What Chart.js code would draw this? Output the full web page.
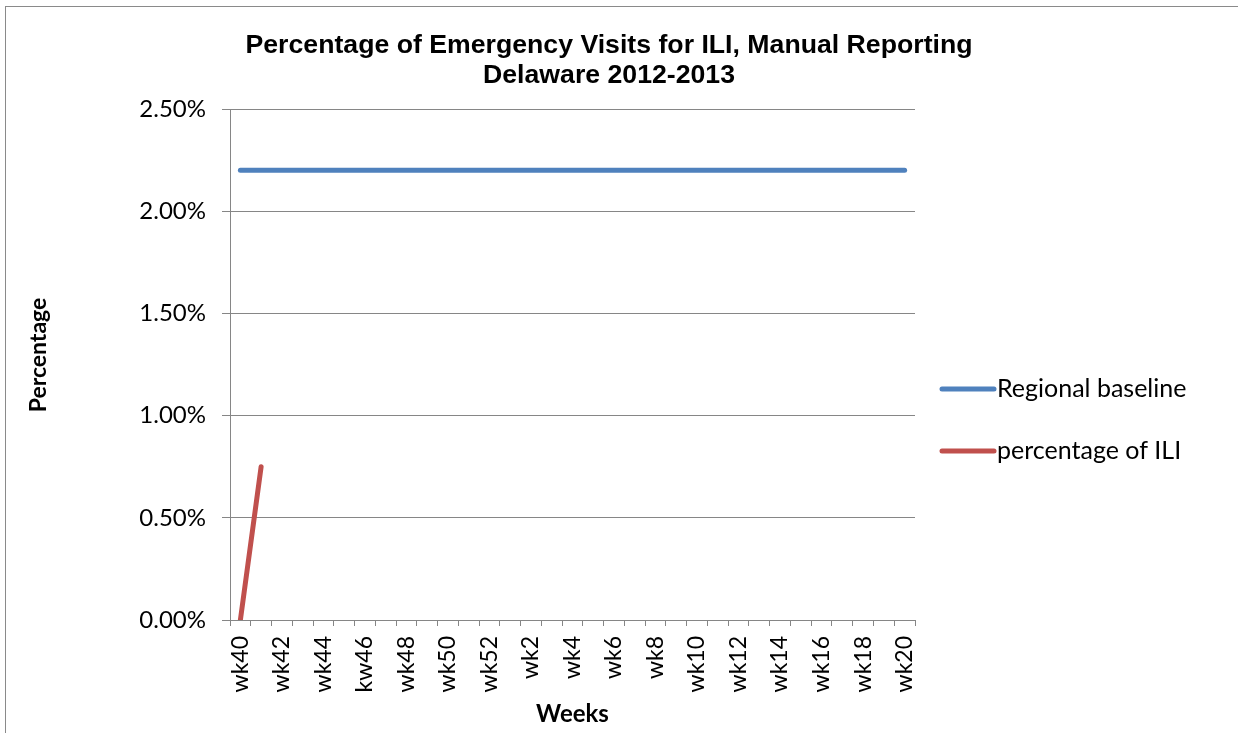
<!DOCTYPE html>
<html>
<head>
<meta charset="utf-8">
<script src="https://cdn.jsdelivr.net/npm/chart.js@4"></script>
<style>
  body { margin: 0; background: #fff; }
  #wrap { position: relative; width: 1238px; height: 733px; overflow: hidden; }
  #frame { position: absolute; left: 5px; top: 6px; width: 1240px; height: 740px; border: 1px solid #8a8a8a; }
  canvas { position: absolute; left: 0; top: 0; }
</style>
</head>
<body>
<div id="wrap">
  <div id="frame"></div>
  <canvas id="chart-canvas" width="1238" height="733"></canvas>
</div>
<script>
// weeks of the 2012-2013 season
const weeks = [
  'wk40', 'wk41', 'wk42', 'wk43', 'wk44', 'wk45', 'kw46', 'wk47', 'wk48', 'wk49', 'wk50', 'wk51', 'wk52',
  'wk1', 'wk2', 'wk3', 'wk4', 'wk5', 'wk6', 'wk7', 'wk8', 'wk9', 'wk10',
  'wk11', 'wk12', 'wk13', 'wk14', 'wk15', 'wk16', 'wk17', 'wk18', 'wk19', 'wk20'
]
const baseline = weeks.map(() => 2.2)
const iliPercent = [0, 0.75]
const yTicks = [0, 0.5, 1, 1.5, 2, 2.5]

const titleLines = ['Percentage of Emergency Visits for ILI, Manual Reporting', 'Delaware 2012-2013']
const yTitle = 'Percentage'
const axisGray = '#868686'

// title, y title + legend drawn by hand so they sit where Excel put them
const decorations = {
  id: 'decorations',
  afterDraw(chart) {
    const ctx = chart.ctx
    ctx.save()
    ctx.fillStyle = '#000'
    ctx.textAlign = 'center'
    ctx.textBaseline = 'middle'
    ctx.font = 'bold 25px "Liberation Sans", Arial, sans-serif'
    // excel title font is a bit narrow and tall, squeeze to the same width
    const sx = 727 / ctx.measureText(titleLines[0]).width
    ctx.translate(609, 0)
    ctx.scale(sx, 1)
    ctx.fillText(titleLines[0], 0, 46)
    ctx.fillText(titleLines[1], 0, 76)
    ctx.setTransform(1, 0, 0, 1, 0, 0)

    ctx.font = 'bold 23px Lato, sans-serif'
    ctx.translate(39, 355)
    ctx.rotate(-Math.PI / 2)
    ctx.fillText(yTitle, 0, 0)
    ctx.setTransform(1, 0, 0, 1, 0, 0)

    ctx.textAlign = 'left'
    ctx.font = '25px Lato, sans-serif'
    const rows = [389, 451]
    chart.data.datasets.forEach((ds, i) => {
      const y = rows[i]
      ctx.strokeStyle = ds.borderColor
      ctx.lineWidth = 5
      ctx.lineCap = 'round'
      ctx.beginPath()
      ctx.moveTo(942, y)
      ctx.lineTo(994, y)
      ctx.stroke()
      ctx.fillText(ds.label, 997, y)
    })
    ctx.restore()
  }
}

const ctx = document.querySelector('#chart-canvas')
new Chart(ctx, {
  type: 'line',
  data: {
    labels: weeks,
    datasets: [
      {
        label: 'Regional baseline',
        data: baseline,
        borderColor: '#4F81BD',
        borderWidth: 5,
        borderCapStyle: 'round',
        pointRadius: 0,
        tension: 0
      },
      {
        label: 'percentage of ILI',
        data: iliPercent,
        borderColor: '#C0504D',
        borderWidth: 5,
        borderCapStyle: 'round',
        pointRadius: 0,
        tension: 0
      }
    ]
  },
  options: {
    responsive: false,
    animation: false,
    layout: { padding: { top: 109, right: 323, left: 0, bottom: 0 } },
    plugins: {
      legend: { display: false },
      title: { display: false },
      tooltip: { enabled: false }
    },
    scales: {
      x: {
        type: 'category',
        offset: true,
        grid: {
          offset: true,
          drawOnChartArea: false,
          drawTicks: true,
          tickLength: 6,
          color: axisGray
        },
        border: { color: axisGray, width: 1 },
        ticks: {
          autoSkip: false,
          maxRotation: 90,
          minRotation: 90,
          padding: 10,
          color: '#000',
          font: { family: 'Lato, sans-serif', size: 23 },
          callback: function (val, i) {
            return i % 2 === 0 ? this.getLabelForValue(val) : ''
          }
        },
        title: {
          display: true,
          text: 'Weeks',
          color: '#000',
          font: { family: 'Lato, sans-serif', size: 24, weight: 'bold' },
          padding: { top: 0, bottom: 4 }
        },
        afterFit: scale => { scale.height = 113 }
      },
      y: {
        min: 0,
        max: 2.5,
        afterBuildTicks: scale => { scale.ticks = yTicks.map(v => ({ value: v })) },
        grid: { color: axisGray, tickLength: 8 },
        border: { color: axisGray, width: 1 },
        ticks: {
          padding: 16,
          color: '#000',
          font: { family: 'Lato, sans-serif', size: 24 },
          callback: v => v.toFixed(2) + '%'
        },
        afterFit: scale => { scale.width = 230 }
      }
    }
  },
  plugins: [decorations]
})
</script>
</body>
</html>
